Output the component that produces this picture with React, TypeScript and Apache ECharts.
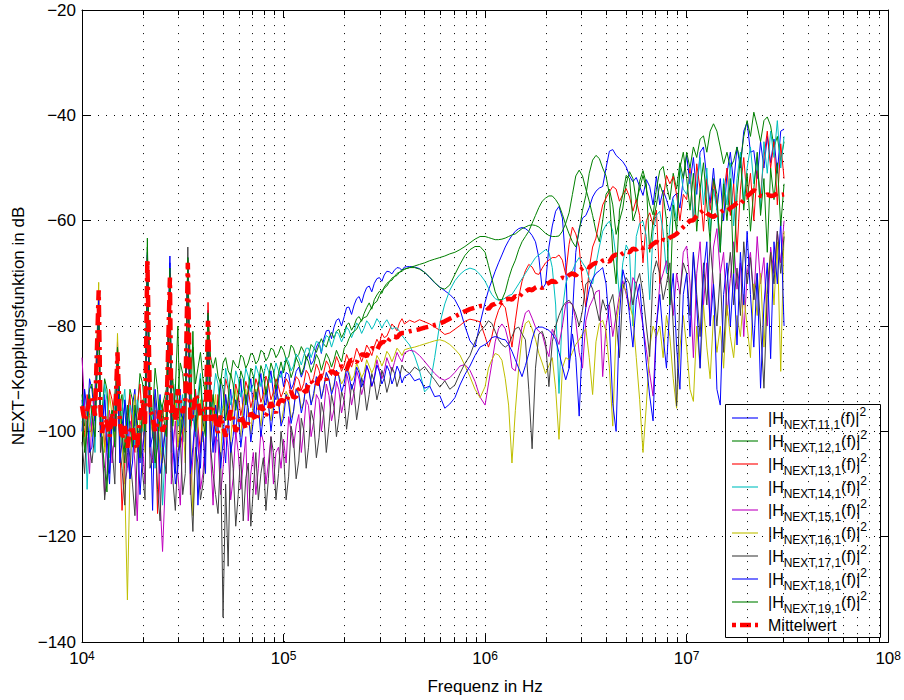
import React, { useEffect, useRef } from 'react';
import * as echarts from 'echarts';

const FONT = "'Liberation Sans', Arial, Helvetica, sans-serif";

// Frequency grid in Hz (read positions along the log axis)
const FREQ_HZ: number[] = [
  // 1e4 .. 1e5
  10000, 10600, 11200, 12100, 12600, 13300, 14100, 15000, 15800, 16800,
  17800, 18800, 20000, 21100, 22400, 23700, 25100, 27300, 28200, 29900,
  31600, 33500, 35500, 37600, 39800, 42200, 44700, 47300, 50100, 53100,
  56200, 59600, 63100, 66800, 70800, 75000, 79400, 84100, 89100, 94400,
  // 1e5 .. 1e6
  100000, 106000, 112000, 119000, 126000, 133000, 141000, 150000, 158000, 168000,
  178000, 188000, 200000, 211000, 224000, 237000, 251000, 266000, 282000, 299000,
  316000, 335000, 355000, 376000, 398000, 422000, 447000, 473000, 501000, 531000,
  562000, 596000, 631000, 668000, 708000, 750000, 794000, 841000, 891000, 944000,
  // 1e6 .. 1e7
  1.000e6, 1.039e6, 1.080e6, 1.122e6, 1.166e6, 1.212e6, 1.259e6, 1.308e6, 1.359e6, 1.413e6,
  1.468e6, 1.525e6, 1.585e6, 1.647e6, 1.711e6, 1.778e6, 1.848e6, 1.920e6, 1.995e6, 2.073e6,
  2.154e6, 2.239e6, 2.326e6, 2.418e6, 2.512e6, 2.610e6, 2.712e6, 2.818e6, 2.929e6, 3.043e6,
  3.162e6, 3.286e6, 3.415e6, 3.548e6, 3.687e6, 3.831e6, 3.981e6, 4.137e6, 4.299e6, 4.467e6,
  4.642e6, 4.823e6, 5.012e6, 5.208e6, 5.412e6, 5.623e6, 5.843e6, 6.072e6, 6.310e6, 6.556e6,
  6.813e6, 7.079e6, 7.356e6, 7.644e6, 7.943e6, 8.254e6, 8.577e6, 8.913e6, 9.261e6, 9.624e6,
  // 1e7 .. 3e7
  1.000e7, 1.039e7, 1.080e7, 1.122e7, 1.166e7, 1.212e7, 1.259e7, 1.308e7, 1.359e7, 1.413e7,
  1.468e7, 1.525e7, 1.585e7, 1.647e7, 1.711e7, 1.778e7, 1.848e7, 1.920e7, 1.995e7, 2.073e7,
  2.154e7, 2.239e7, 2.326e7, 2.418e7, 2.512e7, 2.610e7, 2.712e7, 2.818e7, 2.929e7, 3.043e7,
];

// Extra in-between frequencies for the very noisy low band (1e4 .. 4e5)
const FREQ_MID_HZ: number[] = [
  10300, 10900, 11600, 12350, 12950, 13700, 14550, 15400, 16300, 17300,
  18300, 19400, 20550, 21750, 23050, 24400, 26200, 27750, 29050, 30750,
  32550, 34500, 36550, 38700, 41000, 43450, 46000, 48700, 51600, 54650,
  57900, 61350, 64950, 68800, 72850, 77200, 81750, 86600, 91700, 97150,
  103000, 109000, 115500, 122500, 129500, 137000, 145500, 154000, 163000, 173000,
  183000, 194000, 205500, 217500, 230500, 244000, 258500, 274000, 290500, 307500,
  325500, 345000, 365500, 387000,
];

const H11: number[] = [
  -94, -99, -92, -74, -97, -101, -96, -84, -99, -104,
  -95, -100, -97, -66, -115, -98, -103, -66.7, -100, -96,
  -102, -67, -98, -103, -96, -77, -99, -95, -101, -96,
  -98, -94, -97, -93, -96, -92, -94, -91, -93, -90,
  -91.5, -89.2, -91, -87.8, -88.4, -85.2, -86.5, -83, -82.6, -80.8,
  -80.2, -78.6, -78.2, -76.4, -76, -74.4, -73.9, -72.4, -71.9, -70.8,
  -70.3, -69.7, -69.4, -69, -68.8, -68.7, -68.8, -69.1, -69.8, -70.8,
  -71.8, -72.6, -73.3, -74, -75, -76.8, -80, -82.8, -84, -79.5,
  -75.5, -73.2, -71.4, -69.6, -68, -66.5, -65, -63.8, -62.8, -62,
  -61.5, -61.3, -61.5, -62, -62.8, -64, -67, -73, -72, -65,
  -61, -58.2, -57.3, -59.5, -68, -88, -78, -66, -61.5, -59.5,
  -59, -57.5, -55.5, -54.4, -53.8, -53.5, -50, -46.8, -46.5, -47.6,
  -48.2, -48.8, -49.8, -51.5, -52.6, -51.8, -53.5, -55.2, -52.2, -53.5,
  -57, -51.6, -57, -54.2, -56, -58.2, -55.5, -54.8, -57.6, -52,
  -47.6, -53, -48, -55, -47, -46, -52, -56.7, -50, -58,
  -52, -60, -51, -47, -53, -46, -50, -43, -41.3, -47,
  -46.7, -52, -45, -50, -44, -49, -44.5, -51, -43, -42.6,
];
const H11_MID: number[] = [
  -103, -90, -98, -96, -93, -108, -100, -97, -95, -109,
  -92, -106, -101, -96, -94, -93, -99, -97, -108, -92,
  -97, -95, -92, -107, -100, -94, -104, -91, -106, -92,
  -101, -90, -99, -90, -97, -89, -95, -88.5, -94, -88.5,
  -88.8, -92, -88.6, -89.7, -86.2, -87.3, -84, -85.2, -80.9, -82.4,
  -78.9, -80, -76.5, -77.8, -74.8, -75.6, -72.7, -73.5, -71, -71.5,
  -69.6, -70.1, -68.9, -69.4,
];

const H12: number[] = [
  -93, -97, -91, -76, -96, -92, -98, -86, -93, -99,
  -94, -96, -91, -65, -97, -92, -95, -70, -90, -93,
  -89, -68, -84, -88, -90, -78, -88, -89.5, -87, -88.5,
  -86.5, -88, -86, -87, -85.5, -86.5, -85, -85.8, -84.5, -85.2,
  -84.6, -85.9, -84.2, -85.4, -84.8, -85.6, -84.1, -83.5, -83.4, -82.3,
  -82.3, -80.6, -81.2, -79.4, -79.9, -78.2, -77.6, -75.6, -75.0, -73.4,
  -72.6, -71.5, -70.6, -69.8, -69.2, -68.9, -68.6, -68.3, -68, -67.6,
  -67.3, -67, -66.7, -66.3, -66, -65.5, -64.9, -64.2, -63.5, -63.0,
  -63, -63.2, -63.4, -63.6, -63.6, -63.5, -63.3, -63, -62.7, -62.5,
  -62, -61.5, -61.2, -60.9, -60.8, -60.9, -61.2, -61.8, -62.4, -62.8,
  -63, -63, -62.9, -62, -60.5, -58.5, -55, -51.5, -50.4, -51.5,
  -54, -56.3, -59, -62, -64, -60, -55, -54, -57, -62.6,
  -60, -57.6, -53, -50.7, -52, -56.3, -54, -51.4, -54, -57,
  -58.9, -54, -50.5, -49.7, -53.3, -56, -51, -54, -49, -52,
  -47, -50, -46, -48, -44.5, -43.9, -47, -43, -41.6, -43,
  -46, -49.2, -47, -50, -48.6, -46, -49, -44, -41, -44,
  -39.4, -42, -45, -41, -40.3, -42, -46, -44, -48.6, -45,
];
const H12_MID: number[] = [
  -99, -92, -96, -97, -90, -101, -93, -95, -104, -92,
  -99, -89, -97, -94, -88, -100, -92, -93, -96, -87,
  -94, -89, -91, -85, -93, -86, -86, -91, -86, -89.5,
  -87.5, -85.5, -88, -85.2, -87.2, -84.6, -86.6, -84.2, -86, -83.8,
  -86.3, -83.6, -86, -83.9, -86.2, -83.5, -85, -82.4, -84, -81.2,
  -81, -82.2, -79.8, -80.8, -78.6, -79.1, -76.5, -76.8, -74.1, -73.8,
  -71.9, -71.3, -70, -69.6,
];

const H13: number[] = [
  -96, -93, -100, -75, -95, -99, -94, -85, -115, -97,
  -101, -95, -99, -67, -100, -115.6, -97, -70, -98, -94,
  -100, -67.5, -96, -99, -94, -75.5, -97, -93, -96, -92,
  -95, -93, -94.5, -92, -93.5, -91.5, -93, -91, -92.5, -91.5,
  -92.3, -90.8, -91.9, -90.2, -90.9, -89.1, -89.8, -88.4, -88.9, -87.5,
  -88.0, -86.9, -87.4, -86.5, -86.2, -85.3, -85.4, -84.4, -83.9, -83.4,
  -82.2, -80.8, -80.2, -79.4, -79.6, -78.9, -79.3, -78.8, -79.2, -79.6,
  -80.2, -80.8, -81.6, -81.3, -80.6, -79.9, -79.1, -78.7, -78.9, -79.2,
  -82, -84, -82, -79, -77, -75.8, -76.5, -80, -84, -79,
  -74.5, -71.5, -69.5, -68.3, -68.8, -70, -70.2, -69, -68, -67.5,
  -67, -67, -66.5, -67.5, -70.2, -64.5, -61.2, -62.5, -65, -72,
  -76.4, -69, -65, -63.3, -60, -57, -55.7, -54.5, -53.5, -54,
  -56.3, -55, -53.9, -55.5, -58.2, -56, -59, -68, -60, -58.5,
  -60.8, -58, -72, -56, -51.4, -53, -51.6, -55, -60, -55,
  -56, -50, -60, -49.2, -54, -62, -52, -58, -52.3, -57,
  -64, -55, -50, -59, -53, -66, -54, -48, -56, -51,
  -60, -50.5, -55, -48, -43, -50, -45, -57, -45.4, -52,
];
const H13_MID: number[] = [
  -101, -97, -92, -99, -103, -92, -98, -102, -106, -93,
  -104, -91, -103, -98, -96, -104, -93, -101, -92, -103,
  -96, -100, -92, -104, -98, -92, -100, -97, -90, -98,
  -91, -97, -90.5, -95.5, -90, -94.5, -89.5, -94, -90, -93.5,
  -90, -93, -89.6, -92.2, -88.4, -91, -87.2, -90.3, -86.6, -89.4,
  -85.8, -88.6, -85.4, -87.8, -84.2, -86.8, -83.6, -85.6, -82.5, -81.4,
  -81.9, -79.6, -80.9, -78.6,
];

const H14: number[] = [
  -97, -111, -95, -77, -99, -94, -100, -87, -96, -101,
  -97, -94, -100, -68, -96, -99, -114, -72, -95, -99,
  -93, -69, -97, -93, -96, -79, -94, -91, -95, -91,
  -93, -90, -92, -89.5, -91, -89, -90, -88.5, -89.5, -88.5,
  -88.0, -86.8, -87.6, -86.0, -85.6, -84.2, -84.5, -83.2, -83.3, -82.2,
  -82.5, -81.6, -81.8, -80.8, -81.0, -80.1, -80.4, -79.6, -79.8, -79.3,
  -79.5, -79.7, -80.3, -81.0, -82.4, -83.6, -85.7, -88.5, -92.5, -91.5,
  -86, -79.5, -75.8, -73.2, -71.4, -70.2, -69.4, -69, -69.3, -70.2,
  -71.5, -72.8, -74, -74.8, -75.1, -75, -74.7, -74.2, -74, -73,
  -72, -71, -70, -69, -68, -67, -66.5, -66, -65.5, -66,
  -68.9, -76, -92.8, -77, -72, -70, -69.5, -68, -67, -68,
  -69, -71, -72, -68.3, -65, -62, -60.8, -60.1, -62, -67,
  -74.5, -68, -64.6, -66, -80, -63, -60.5, -60.1, -63, -75,
  -62, -59, -58.2, -62, -70, -61, -56, -60, -50, -54,
  -55, -51, -60, -53, -48, -57, -50, -62, -54, -58,
  -66, -52, -57, -49, -61, -52, -47, -56, -50, -46,
  -53, -48, -58, -45, -51, -43, -48, -41, -50, -44,
];
const H14_MID: number[] = [
  -92, -100, -104, -96, -91, -105, -95, -103, -92, -95,
  -103, -98, -93, -101, -107, -94, -100, -104, -91, -97,
  -102, -92, -101, -89, -99, -97, -89, -97, -88, -95,
  -88.5, -93.5, -88, -92.5, -87.5, -91.5, -87.2, -90.8, -87, -89.8,
  -86, -88.5, -85.3, -87.4, -84.2, -86, -82.9, -85, -81.8, -84,
  -81, -83, -80.2, -82.2, -79.4, -81.4, -79, -80.6, -78.6, -80.4,
  -78.8, -80.6, -80.4, -81.8,
];

const H15: number[] = [
  -86, -101, -97, -75.5, -104, -99, -106, -83, -101, -107,
  -100, -117, -103, -70, -106, -100, -122.8, -73, -104, -108,
  -101, -70, -105, -100, -108, -80, -114, -102, -107, -103,
  -109, -104, -106, -117, -104, -107, -102, -106, -110, -103,
  -101.5, -97.2, -103.1, -96.8, -99.5, -95.1, -98.2, -94.0, -96.6, -93.2,
  -95.8, -92.1, -94.0, -91.0, -92.4, -90.1, -91.2, -89.0, -89.8, -88.4,
  -88.6, -87.3, -86.9, -86.0, -85.1, -84.6, -84.8, -85.6, -86.7, -87.9,
  -89.0, -89.9, -90.3, -89.8, -88.8, -87.6, -87.3, -88.4, -90.5, -93.5,
  -95, -91, -87.1, -83, -80.5, -79.6, -80.5, -83, -88, -88.5,
  -84, -80, -77.5, -77, -78.5, -80.2, -81, -81.5, -84, -85.8,
  -80.6, -82, -83.5, -80, -75.8, -75.5, -75.8, -79, -85, -88,
  -79, -76.4, -75, -73.5, -73.2, -89.6, -80, -76, -82, -78,
  -74, -71.4, -74, -77, -70.8, -72, -76, -80, -84.5, -89,
  -93.3, -80, -72, -70, -67.6, -72, -78, -70, -74, -66,
  -64.8, -72, -86, -70, -64, -76, -68, -80, -65, -61.5,
  -70, -66, -78, -71, -64, -73, -68, -82, -70, -66,
  -75, -63, -72, -67, -80, -65, -70, -62, -68, -60,
];
const H15_MID: number[] = [
  -95, -108, -93, -98, -112, -96, -100, -97, -110, -98,
  -106, -99, -110, -104, -97, -113, -105, -110, -98, -114,
  -99, -112, -97, -111, -101, -104, -101, -112, -99, -113,
  -100, -111, -101, -108, -112, -100, -110, -101, -104, -107,
  -106, -100, -99, -104, -94, -101, -93, -100, -91, -98,
  -90.5, -96.5, -89, -95, -88.5, -93, -87.5, -91.5, -86.4, -90,
  -86, -88.6, -85, -86.8,
];

const H16: number[] = [
  -98, -94, -101, -71.7, -96, -100, -97, -81.4, -103, -132,
  -99, -104, -96, -69, -101, -97, -106, -72, -99, -103,
  -97, -69.5, -116, -98, -102, -79, -97, -101, -96, -99,
  -95.5, -98, -95, -97, -94.5, -96, -94, -95.5, -93.5, -95,
  -95.8, -93.4, -96.3, -92.6, -94.4, -91.5, -93.5, -90.6, -92.2, -90.0,
  -91.1, -89.3, -90.0, -88.7, -89.4, -88.3, -88.8, -87.6, -87.8, -86.4,
  -86.5, -85.5, -85.6, -84.8, -84.5, -84.2, -84.0, -83.7, -83.4, -83.1,
  -82.8, -82.6, -82.9, -83.5, -84.4, -85.5, -87.5, -89.6, -92, -93.6,
  -91.5, -88, -86.4, -85.2, -85.5, -86.5, -90, -95, -106, -96,
  -88, -82, -79.5, -79, -80.5, -82.5, -85.2, -87, -89, -87.5,
  -86, -92, -101.5, -88, -86, -86.4, -85, -83.5, -82.6, -81.5,
  -80.5, -86, -93, -83, -79.5, -78.9, -81, -88, -99, -80,
  -75.1, -72, -73.5, -76, -78.3, -86, -93.9, -104, -95, -84,
  -80, -82, -80, -86, -78, -82, -90, -95.6, -84, -78,
  -84, -92, -94.3, -80, -88, -76, -84, -90, -78, -85,
  -80, -88, -76, -82, -86, -78, -82, -74, -80, -86,
  -72, -78, -70, -84, -72, -66, -76, -64, -88.6, -62,
];
const H16_MID: number[] = [
  -103, -99, -95, -98, -104, -93, -102, -96, -110, -108,
  -93, -98, -104, -95, -93, -103, -95, -100, -94, -98,
  -106, -99, -104, -94, -97, -102, -93, -105, -93, -102,
  -92, -101, -92, -100.5, -92, -99, -91.5, -98, -91.5, -98.5,
  -92.4, -97.4, -91.8, -95.6, -91, -94.6, -89.8, -93.5, -89, -92.4,
  -88.4, -91, -87.6, -90.4, -87, -89.8, -86.4, -88.9, -85.6, -87.6,
  -84.8, -86.8, -84.2, -85.6,
];

const H17: number[] = [
  -102, -98, -106, -78, -101, -108, -103, -88, -107, -101,
  -110, -104, -108, -71, -105, -111, -103, -74, -109, -104,
  -112, -65, -119, -106, -110, -82, -108, -115.6, -135.3, -125.6,
  -107, -112, -117, -106, -111, -113, -105, -109, -104, -108,
  -104.2, -108.5, -101.4, -105.6, -99.8, -103.0, -98.1, -101.2, -96.5, -99.0,
  -95.4, -97.6, -94.2, -96.0, -92.8, -94.6, -91.5, -93.0, -90.6, -91.8,
  -89.9, -90.8, -89.0, -89.9, -88.3, -89.0, -87.8, -88.5, -87.7, -89.0,
  -90.2, -91.6, -90.4, -92.0, -91.2, -89.0, -87.1, -85.6, -83, -81,
  -80, -79, -79.5, -81, -82.6, -83.5, -84, -83.5, -82, -80.5,
  -80.2, -81.5, -82.6, -92, -103.3, -88, -81.5, -81, -83, -91.5,
  -83, -80, -78, -76.4, -75.5, -75.1, -76, -77.7, -80, -77,
  -72, -71.4, -73, -76, -79, -75, -77, -75.8, -74, -79,
  -86, -73, -70.8, -72, -76, -72, -70, -74, -80, -85.8,
  -70, -67.6, -70, -75, -72, -68, -80, -95.2, -74, -68,
  -70, -78, -66, -74, -82, -68, -76, -64, -72, -80,
  -70, -85, -72, -66, -76, -69, -78, -64, -72, -67,
  -75, -70, -80, -91.8, -74, -66, -72, -62, -70, -63,
];
const H17_MID: number[] = [
  -108, -103, -100, -104, -113, -101, -110, -103, -114, -105,
  -116, -99, -113, -107, -100, -117, -108, -106, -115, -101,
  -108, -110, -103, -113, -104, -103, -112, -104, -110, -102,
  -118, -104, -109, -118, -104, -108, -115, -101, -113, -100,
  -113, -99, -109, -97.5, -107, -96, -105, -94.5, -104, -93,
  -101, -92.4, -99.6, -91, -97.8, -89.8, -96, -89, -94, -88.4,
  -92.6, -87.8, -91.5, -87.4,
];

const H18: number[] = [
  -100, -96, -103, -74.5, -99, -104, -97, -85, -102, -98,
  -106, -99, -104, -66.5, -101, -97, -105, -68, -102, -107,
  -99, -68, -103, -114, -100, -78, -104, -99, -102, -97,
  -101, -96, -99, -95.5, -98, -95, -97, -94.5, -96, -94,
  -97.5, -94.6, -96.2, -93.0, -94.4, -91.6, -92.8, -90.6, -91.8, -90.1,
  -91.4, -89.6, -90.9, -89.3, -90.6, -88.9, -90.2, -88.8, -90.0, -88.7,
  -89.9, -88.6, -89.7, -88.7, -89.6, -89.0, -90.4, -90.0, -91.8, -91.4,
  -93.4, -93.2, -95.6, -94.8, -93.6, -91.2, -89.2, -87.6, -85.6, -84.0,
  -83.5, -83, -82.2, -82, -82.2, -82.5, -82.6, -83.5, -84.8, -86.4,
  -88, -89.6, -87.5, -85.2, -82.5, -80.5, -80.2, -80.2, -80.5, -80.8,
  -81.5, -82.6, -85, -87.7, -90.2, -88, -81.5, -86, -97.1, -82,
  -76.4, -73, -71, -70, -69.5, -68.9, -72, -80, -94.7, -100,
  -78, -69.3, -72, -78, -84, -75, -72, -80, -87, -93.3,
  -98, -80, -74, -82, -88, -76, -70, -84, -92, -74,
  -70, -82, -66, -76, -88, -70, -64, -80, -72, -92,
  -95, -74, -68, -80, -70, -83.6, -66, -76, -62, -74,
  -84, -70, -91.8, -76, -68, -86.2, -64, -72, -60, -80,
];
const H18_MID: number[] = [
  -92, -104, -96, -101, -94, -110, -100, -106, -94, -109,
  -96, -112, -98, -103, -92, -108, -98, -97, -110, -101,
  -94, -108, -97, -103, -108, -97, -95, -107, -93, -104,
  -94, -103, -93, -102, -92.5, -101, -92, -100, -91.5, -99,
  -93, -98.5, -92, -96.5, -90.8, -95, -89.6, -93.8, -88.8, -93,
  -88.4, -92.5, -88, -92, -87.8, -91.6, -87.5, -91.4, -87.4, -91,
  -87.5, -91, -87.6, -90.8,
];

const H19: number[] = [
  -95, -100, -97, -76, -102, -111.5, -96, -84, -100, -95,
  -103, -98, -94, -63.3, -99, -103, -96, -69, -99, -80,
  -97, -67, -81, -95, -98, -77.5, -93, -96, -92, -94,
  -91, -93, -90, -92, -89.5, -91, -89, -90, -88.5, -89,
  -88.9, -87.6, -88.4, -87.1, -87.9, -86.8, -87.5, -86.4, -87.0, -86.2,
  -86.4, -85.7, -84.2, -82.4, -81.0, -79.6, -78.4, -77.3, -75.7, -74.2,
  -72.8, -71.6, -70.6, -69.8, -69.2, -68.9, -68.9, -69.2, -69.8, -70.7,
  -71.7, -72.7, -73.0, -72.2, -70.2, -68.3, -66.6, -65.5, -64.9, -64.9,
  -66, -68.5, -71, -73.5, -75, -75, -73.5, -71, -69, -67.5,
  -65.5, -64, -63, -62, -60.5, -59, -57.5, -56.3, -55.7, -55.3,
  -55.3, -56, -57, -58.8, -60.8, -62.5, -64, -65, -62, -58,
  -55.2, -51, -48.5, -47.6, -48.2, -50, -51.5, -55, -66, -72,
  -58, -55, -51.4, -52, -60, -58, -52.5, -50.5, -53, -66,
  -60, -57, -53, -55, -60, -76, -57, -62, -50, -47,
  -52, -58, -51, -62, -54, -49, -57, -64, -52, -55,
  -66, -53, -60, -52, -70, -55, -48, -58, -51, -62,
  -54, -47, -59, -52, -66, -50, -56, -49, -61, -53,
];
const H19_MID: number[] = [
  -104, -93, -101, -97, -107, -98, -103, -94, -106, -99,
  -95, -105, -100, -96, -106, -94, -101, -96, -92, -101,
  -93, -99, -100, -90, -101, -97, -99, -90, -98, -89,
  -96, -88.5, -95, -88, -94, -87.5, -93, -87, -92, -86.8,
  -86.4, -89.8, -86, -89.2, -85.8, -88.8, -85.4, -88.4, -85.2, -87.8,
  -84.6, -86.8, -83.6, -81.4, -80.6, -78.8, -78.2, -76.4, -75.3, -73.3,
  -72.4, -70.9, -70.4, -69.3,
];

const MEAN: number[] = [
  -95.2, -96.2, -93.4, -73.2, -100.3, -98.4, -96.5, -85, -101.5, -103.1,
  -99, -103.3, -94, -67.3, -97.1, -98.4, -100, -70.8, -95, -92,
  -96.5, -68, -96.5, -94, -95.8, -79, -95.6, -100.3, -99, -98.4,
  -97.5, -99, -98, -98.4, -97, -96.5, -95.8, -96, -95.6, -94.6,
  -94.2, -93.0, -93.6, -92.0, -92.2, -91.0, -91.0, -90.0, -89.6, -89.0,
  -88.8, -88.2, -87.9, -87.0, -86.5, -85.9, -85.4, -84.8, -84.2, -83.6,
  -83.0, -82.5, -82.0, -81.6, -81.3, -81.0, -80.8, -80.6, -80.3, -80.1,
  -79.8, -79.5, -79.1, -78.6, -78.2, -77.7, -77.2, -76.8, -76.5, -76.2,
  -76.2, -76.8, -76, -75.8, -75.3, -75.6, -75, -74.8, -75, -74.3,
  -74.6, -73.8, -73.5, -73, -73.2, -72.7, -72.4, -72.8, -72.2, -71.8,
  -71.4, -71.7, -71.2, -70.8, -71, -70.3, -70, -70.4, -69.6, -69,
  -68.6, -68.9, -68.3, -68, -68.2, -67.6, -67.4, -67.8, -66.8, -66.4,
  -66.7, -66.2, -65.8, -66, -65.3, -65.5, -64.9, -65.2, -64.8, -65,
  -64.4, -64, -64.3, -63.6, -63.8, -63.2, -62.9, -62.5, -61.8, -61.2,
  -60.6, -60, -59.9, -59, -58.5, -58, -58.6, -59, -59.3, -58.8,
  -58.4, -58, -58.2, -57.6, -57.2, -56.6, -56.8, -56.1, -55.4, -54.8,
  -54.2, -54.6, -55.3, -55.4, -55, -55.3, -55.2, -54.8, -55.1, -55,
];
const MEAN_MID: number[] = [
  -98, -94, -97, -96, -97, -101, -99, -98, -99, -100,
  -102, -97, -99, -96, -100, -96, -98, -97, -98, -95,
  -94, -98, -93, -97, -98, -98, -98, -97, -101, -96,
  -100, -97, -99.5, -96.5, -98, -95, -97, -94.5, -96.5, -94,
  -94.6, -92.4, -93.4, -91.6, -92.6, -90.4, -91.4, -89.4, -90.2, -88.6,
  -89.2, -87.6, -88.3, -86.4, -86.9, -85.4, -85.8, -84.2, -84.6, -83.1,
  -83.4, -82, -82.2, -81.3,
];

const SERIES_IDS = ['11', '12', '13', '14', '15', '16', '17', '18', '19'];
const SERIES_COLORS = ['#0000ff', '#008000', '#ff0000', '#00bfbf', '#bf00bf', '#bfbf00', '#404040', '#0000ff', '#008000'];
const SERIES_VALUES = [H11, H12, H13, H14, H15, H16, H17, H18, H19];
const SERIES_MID_VALUES = [H11_MID, H12_MID, H13_MID, H14_MID, H15_MID, H16_MID, H17_MID, H18_MID, H19_MID];
const MEAN_NAME = 'Mittelwert';
const MEAN_COLOR = '#ff0000';

const X_MIN = 1e4;
const X_MAX = 1e8;
const Y_MIN = -140;
const Y_MAX = -20;
const Y_STEP = 20;
const X_NAME = 'Frequenz in Hz';
const Y_NAME = 'NEXT\u2212Kopplungsfunktion in dB';

function buildData(main: number[], mid: number[]): number[][] {
  const pts = FREQ_HZ.map((f, k) => [f, main[k]]).concat(FREQ_MID_HZ.map((f, k) => [f, mid[k]]));
  return pts.sort((a, b) => a[0] - b[0]);
}

export default function App() {
  const ref = useRef<HTMLDivElement>(null);

  useEffect(() => {
    if (!ref.current) return;
    const chart = echarts.init(ref.current, null, { renderer: 'svg' });

    const gridTicks: number[][] = [];
    for (let e = 4; e < 8; e++) {
      for (let d = 1; d <= 9; d++) {
        const v = d * Math.pow(10, e);
        if (v <= X_MIN) continue;
        gridTicks.push([v, Y_MIN, d === 1 ? 1 : 0]);
      }
    }

    const lineSeries: any[] = SERIES_IDS.map((id, i) => ({
      name: 'H' + id,
      type: 'line',
      data: buildData(SERIES_VALUES[i], SERIES_MID_VALUES[i]),
      showSymbol: false,
      symbol: 'none',
      lineStyle: { color: SERIES_COLORS[i], width: 1 },
      itemStyle: { color: SERIES_COLORS[i] },
      z: 3,
      silent: true,
    }));

    const meanSeries = {
      name: MEAN_NAME,
      type: 'line',
      data: buildData(MEAN, MEAN_MID),
      showSymbol: false,
      symbol: 'none',
      lineStyle: { color: MEAN_COLOR, width: 4.5, type: [12, 5, 3, 5] },
      itemStyle: { color: MEAN_COLOR },
      z: 4,
      silent: true,
    };

    const gridSeries = {
      type: 'custom',
      silent: true,
      z: 1,
      data: gridTicks,
      encode: { x: 0, y: 1 },
      renderItem: (_params: any, api: any) => {
        const v = api.value(0);
        const major = api.value(2) === 1;
        const b = api.coord([v, Y_MIN]);
        const t = api.coord([v, Y_MAX]);
        const x = Math.round(b[0]) + 0.5;
        const children: any[] = [
          {
            type: 'line',
            shape: { x1: x, y1: b[1], x2: x, y2: t[1] },
            style: { stroke: '#000', lineWidth: 1, lineDash: [1, 7] },
          },
        ];
        if (!major) {
          children.push({
            type: 'line',
            shape: { x1: x, y1: b[1], x2: x, y2: b[1] - 5 },
            style: { stroke: '#000', lineWidth: 1 },
          });
          children.push({
            type: 'line',
            shape: { x1: x, y1: t[1], x2: x, y2: t[1] + 5 },
            style: { stroke: '#000', lineWidth: 1 },
          });
        }
        return { type: 'group', children };
      },
    };

    const legendRich = {
      t: { fontSize: 16, lineHeight: 16, padding: [5, 0, 5, 0], fontFamily: FONT, color: '#000' },
      s: { fontSize: 12, lineHeight: 12, padding: [14, 0, 0, 0], fontFamily: FONT, color: '#000' },
      p: { fontSize: 12, lineHeight: 12, padding: [1, 0, 13, 0], fontFamily: FONT, color: '#000' },
    };

    const legendChildren: any[] = [
      {
        type: 'rect',
        shape: { x: 725.5, y: 404.5, width: 155, height: 233 },
        style: { fill: '#fff', stroke: '#000', lineWidth: 1 },
      },
    ];
    const rowY0 = 418;
    const rowStep = 23;
    SERIES_IDS.forEach((id, i) => {
      const cy = rowY0 + rowStep * i;
      legendChildren.push({
        type: 'line',
        shape: { x1: 732, y1: cy, x2: 758, y2: cy },
        style: { stroke: SERIES_COLORS[i], lineWidth: 2, opacity: 0.55 },
      });
      legendChildren.push({
        type: 'text',
        x: 768,
        y: cy,
        style: {
          text: `{t||H}{s|NEXT,${id},1}{t|(f)|}{p|2}`,
          rich: legendRich,
          verticalAlign: 'middle',
          align: 'left',
          fill: '#000',
        },
      });
    });
    {
      const cy = rowY0 + rowStep * SERIES_IDS.length;
      legendChildren.push({
        type: 'line',
        shape: { x1: 732, y1: cy, x2: 758, y2: cy },
        style: { stroke: MEAN_COLOR, lineWidth: 4.5, lineDash: [4, 4, 11, 4, 3] },
      });
      legendChildren.push({
        type: 'text',
        x: 768,
        y: cy,
        style: {
          text: `{t|${MEAN_NAME}}`,
          rich: legendRich,
          verticalAlign: 'middle',
          align: 'left',
          fill: '#000',
        },
      });
    }

    const axisLineStyle = { color: '#000', width: 1 };

    const option: any = {
      animation: false,
      backgroundColor: '#fff',
      grid: { left: 82, right: 14, top: 10, bottom: 53, containLabel: false },
      xAxis: [
        {
          type: 'log',
          logBase: 10,
          min: X_MIN,
          max: X_MAX,
          position: 'bottom',
          name: X_NAME,
          nameLocation: 'middle',
          nameGap: 33,
          nameTextStyle: { fontSize: 17, fontFamily: FONT, color: '#000' },
          axisLine: { show: true, onZero: false, lineStyle: axisLineStyle },
          axisTick: { show: true, inside: true, length: 8, lineStyle: axisLineStyle },
          splitLine: { show: false },
          axisLabel: {
            margin: 8,
            color: '#000',
            formatter: (v: number) => `{b|10}{e|${Math.round(Math.log10(v))}}`,
            rich: {
              b: { fontSize: 17, lineHeight: 17, fontFamily: FONT, color: '#000', verticalAlign: 'bottom' },
              e: { fontSize: 12, lineHeight: 12, padding: [0, 0, 11, 0], fontFamily: FONT, color: '#000', verticalAlign: 'top' },
            },
          },
        },
        {
          type: 'log',
          logBase: 10,
          min: X_MIN,
          max: X_MAX,
          position: 'top',
          axisLine: { show: true, onZero: false, lineStyle: axisLineStyle },
          axisTick: { show: true, inside: true, length: 8, lineStyle: axisLineStyle },
          axisLabel: { show: false },
          splitLine: { show: false },
        },
      ],
      yAxis: [
        {
          type: 'value',
          min: Y_MIN,
          max: Y_MAX,
          interval: Y_STEP,
          position: 'left',
          name: Y_NAME,
          nameLocation: 'middle',
          nameGap: 54,
          nameTextStyle: { fontSize: 17, fontFamily: FONT, color: '#000' },
          axisLine: { show: true, onZero: false, lineStyle: axisLineStyle },
          axisTick: { show: true, inside: true, length: 8, lineStyle: axisLineStyle },
          splitLine: { show: true, lineStyle: { color: '#000', width: 1, type: [1, 7] } },
          axisLabel: {
            margin: 6,
            fontSize: 17,
            fontFamily: FONT,
            color: '#000',
            formatter: (v: number) => (v < 0 ? '\u2212' + Math.abs(v) : String(v)),
          },
        },
        {
          type: 'value',
          min: Y_MIN,
          max: Y_MAX,
          interval: Y_STEP,
          position: 'right',
          axisLine: { show: true, onZero: false, lineStyle: axisLineStyle },
          axisTick: { show: true, inside: true, length: 8, lineStyle: axisLineStyle },
          axisLabel: { show: false },
          splitLine: { show: false },
        },
      ],
      series: [gridSeries, ...lineSeries, meanSeries],
      graphic: [{ type: 'group', z: 100, children: legendChildren }],
    };

    chart.setOption(option);
    return () => chart.dispose();
  }, []);

  return (
    <div
      ref={ref}
      style={{ position: 'absolute', left: 0, top: 0, width: 904, height: 700, background: '#fff' }}
    />
  );
}
